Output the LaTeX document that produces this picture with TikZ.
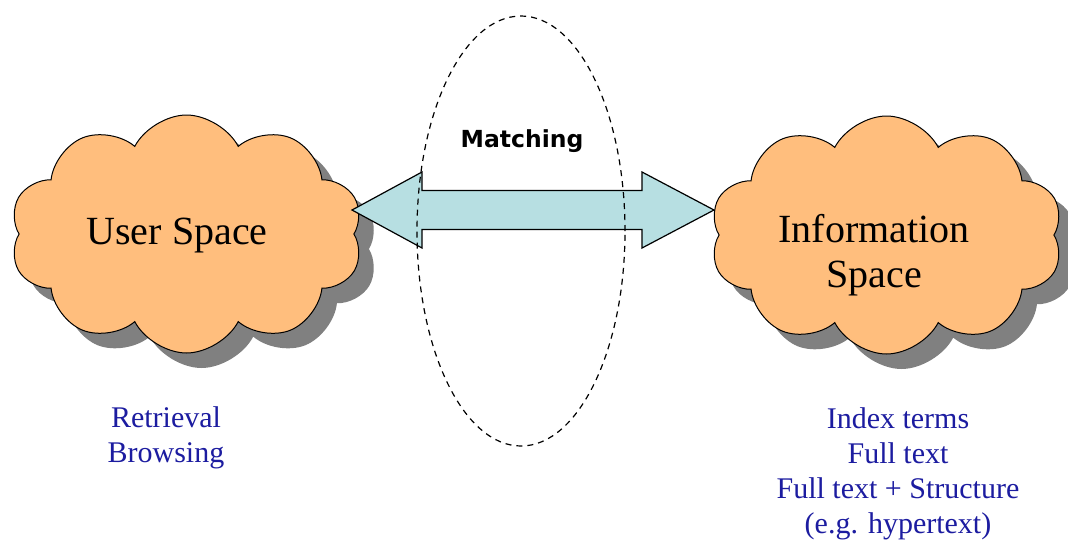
\documentclass[tikz,border=0pt]{standalone}
\usepackage{fontspec}
\setmainfont{Liberation Serif}
\newfontfamily\matchfont{DejaVu Sans}
\usetikzlibrary{shapes.symbols,shapes.geometric,shadows}

\definecolor{cloudfill}{RGB}{255,190,125}
\definecolor{arrowfill}{RGB}{183,223,226}
\definecolor{shadowgray}{RGB}{128,128,128}
\definecolor{termblue}{RGB}{28,28,160}

\begin{document}
\begin{tikzpicture}[x=1pt,y=-1pt,
  space/.style={cloud, cloud puffs=10, cloud puff arc=125, aspect=1.5,
    draw=black, line width=1pt, fill=cloudfill, inner sep=0pt,
    minimum width=353pt, minimum height=238pt,
    drop shadow={shadow xshift=15pt, shadow yshift=-15pt, fill=shadowgray, opacity=1}},
  spacename/.style={align=center, inner sep=0pt, font=\fontsize{40}{45}\selectfont},
  terms/.style={align=center, anchor=north, inner sep=0pt, text=termblue,
    font=\fontsize{30}{35}\selectfont}]

\useasboundingbox (0,0) rectangle (1068,542);

\node[space] (user) at (186.5,234) {};
\node[space] (info) at (886.5,235) {};
\node[spacename] (username) at (177,236) {User Space};
\node[spacename] (infoname) at (874,255) {Information\\Space};

\coordinate (ltip) at (352,210);
\coordinate (rtip) at (714,210);

\draw[line width=1.2pt, fill=arrowfill] (ltip) -- ++(70,-38) -- ++(0,18.5) -- ++(220,0)
  -- ++(0,-18.5) -- (rtip) -- ++(-72,38) -- ++(0,-18.5) -- ++(-220,0) -- ++(0,18.5) -- cycle;

\node[ellipse, draw, line width=1.2pt, dash pattern=on 6pt off 5pt, inner sep=0pt,
  minimum width=208pt, minimum height=430pt] (match) at (521,231) {};
\node[anchor=base, font=\matchfont\bfseries\fontsize{23.5}{28}\selectfont] (matchname) at (522,147) {Matching};

\node[terms] (userterms) at (166,406.5) {Retrieval\\Browsing};
\node[terms] (infoterms) at (898,407.5) {Index terms\\Full text\\Full text + Structure\\(e.g. hypertext)};

\end{tikzpicture}
\end{document}
